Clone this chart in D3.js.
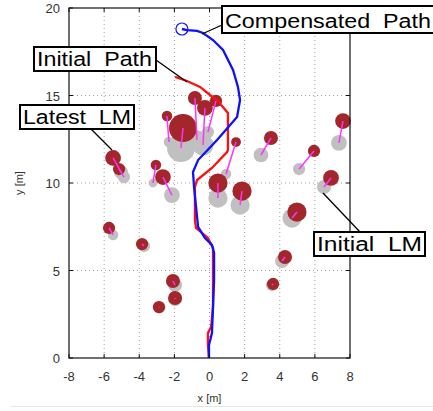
<!DOCTYPE html>
<html>
<head>
<meta charset="utf-8">
<script src="https://cdn.jsdelivr.net/npm/d3@7"></script>
<style>
  body { margin: 0; background: #fff; }
  text { font-family: "Liberation Sans", Arial, sans-serif; }
</style>
</head>
<body>
<div id="chart"></div>
<script>
// Axis ticks
const xTicks = [-8, -6, -4, -2, 0, 2, 4, 6, 8];
const yTicks = [0, 5, 10, 15, 20];

// Initial (odometry) path
const initPathX = [-0.03, -0.09, -0.09, 0.09, 0.2, 0.2, 0.2, -0.09, -0.77, -0.83, -0.83, -0.71, 0.14, 1.0, 1.05, 1.05, 0.43, 0.03, -0.54, -1.28, -1.96];
const initPathY = [0, 0.74, 1.43, 1.77, 2.91, 5.03, 6.29, 6.86, 7.43, 7.89, 9.77, 10.17, 10.86, 11.77, 11.89, 14.0, 14.74, 15.03, 15.49, 15.83, 16.06];

// Compensated path
const compPathX = [-0.03, -0.03, 0.14, 0.2, 0.26, 0.26, 0.14, -0.26, -0.65, -0.88, -0.94, -0.65, 0.43, 1.57, 1.74, 1.62, 1.34, 0.77, 0.2, -0.37, -0.71, -1.28, -1.57];
const compPathY = [0, 0.74, 1.43, 2.91, 4.46, 6.0, 6.46, 6.86, 7.49, 9.77, 10.63, 11.31, 12.46, 13.77, 14.74, 15.49, 16.46, 17.6, 18.17, 18.57, 18.69, 18.74, 18.8];

// Landmarks: initial estimate
const lmInitX = [-0.71, -0.37, -0.09, -2.31, -1.62, 0.94, -5.04, -4.87, -3.22, -2.14, -5.49, 0.48, 1.74, 4.7, 2.93, 5.1, 7.37, 6.52, -3.73, -1.96, -1.96, -2.85, 4.13, 3.56];
const lmInitY = [12.46, 12.17, 12.91, 12.34, 12.0, 10.51, 10.63, 10.34, 10.0, 9.31, 7.03, 9.14, 8.74, 8.0, 11.6, 10.8, 12.29, 9.77, 6.4, 4.17, 3.37, 2.9, 5.54, 4.17];
const lmInitR = [0.55, 0.6, 0.35, 0.3, 0.8, 0.3, 0.4, 0.35, 0.25, 0.45, 0.3, 0.55, 0.55, 0.55, 0.42, 0.35, 0.45, 0.4, 0.35, 0.4, 0.4, 0.35, 0.4, 0.35];

// Landmarks: latest estimate
const lmLastX = [-0.83, -0.26, 0.37, -2.42, -1.51, 1.51, -5.49, -5.15, -3.05, -2.65, -5.72, 0.48, 1.85, 4.98, 3.5, 5.95, 7.6, 6.92, -3.84, -2.08, -1.96, -2.88, 4.3, 3.62];
const lmLastY = [14.86, 14.29, 14.69, 13.83, 13.14, 12.34, 11.43, 10.8, 11.03, 10.34, 7.43, 10.0, 9.54, 8.34, 12.57, 11.83, 13.54, 10.29, 6.51, 4.4, 3.43, 2.91, 5.77, 4.23];
const lmLastR = [0.4, 0.45, 0.35, 0.3, 0.8, 0.28, 0.45, 0.35, 0.3, 0.45, 0.35, 0.55, 0.55, 0.55, 0.4, 0.35, 0.45, 0.45, 0.35, 0.4, 0.4, 0.35, 0.4, 0.35];

const W = 433, H = 411;
const margin = {top: 8, right: 83, bottom: 53, left: 69};
const width = W - margin.left - margin.right;
const height = H - margin.top - margin.bottom;

const svgRoot = d3.select("#chart").append("svg")
    .attr("width", W)
    .attr("height", H);

const svg = svgRoot.append("g")
    .attr("transform", `translate(${margin.left},${margin.top})`);

const x = d3.scaleLinear().domain([-8, 8]).range([0, width]);
const y = d3.scaleLinear().domain([0, 20]).range([height, 0]);
const rs = v => y(0) - y(v);

// Grid (dotted)
svg.append("g").selectAll("line").data(xTicks.slice(1, -1)).join("line")
    .attr("x1", d => x(d)).attr("x2", d => x(d))
    .attr("y1", 0).attr("y2", height)
    .attr("stroke", "#a0a0a0").attr("stroke-width", 1)
    .attr("stroke-dasharray", "1,3");
svg.append("g").selectAll("line").data(yTicks.slice(1, -1)).join("line")
    .attr("x1", 0).attr("x2", width)
    .attr("y1", d => y(d)).attr("y2", d => y(d))
    .attr("stroke", "#a0a0a0").attr("stroke-width", 1)
    .attr("stroke-dasharray", "1,3");

// Landmarks: initial (gray)
const lmIdx = d3.range(lmInitX.length);
svg.append("g").selectAll("circle").data(lmIdx).join("circle")
    .attr("cx", i => x(lmInitX[i]))
    .attr("cy", i => y(lmInitY[i]))
    .attr("r", i => rs(lmInitR[i]))
    .attr("fill", "#c0c0c0");

// Landmarks: latest (dark red)
svg.append("g").selectAll("circle").data(lmIdx).join("circle")
    .attr("cx", i => x(lmLastX[i]))
    .attr("cy", i => y(lmLastY[i]))
    .attr("r", i => rs(lmLastR[i]))
    .attr("fill", "#a3262a");

// Displacement lines
svg.append("g").selectAll("line").data(lmIdx).join("line")
    .attr("x1", i => x(lmInitX[i])).attr("y1", i => y(lmInitY[i]))
    .attr("x2", i => x(lmLastX[i])).attr("y2", i => y(lmLastY[i]))
    .attr("stroke", "#ff33ff").attr("stroke-width", 1.5);

// Paths
const line = d3.line().x(d => x(d[0])).y(d => y(d[1]));
svg.append("path")
    .datum(d3.zip(initPathX, initPathY))
    .attr("d", line)
    .attr("fill", "none").attr("stroke", "#ff1010").attr("stroke-width", 2.3);
svg.append("path")
    .datum(d3.zip(compPathX, compPathY))
    .attr("d", line)
    .attr("fill", "none").attr("stroke", "#1010ff").attr("stroke-width", 2.3);
svg.append("circle")
    .attr("cx", x(compPathX[compPathX.length - 1]))
    .attr("cy", y(compPathY[compPathY.length - 1]))
    .attr("r", 6)
    .attr("fill", "none").attr("stroke", "#1010ff").attr("stroke-width", 1.2);

// Frame and inward ticks
svg.append("rect")
    .attr("width", width).attr("height", height)
    .attr("fill", "none").attr("stroke", "#111").attr("stroke-width", 1.2);

const tickLen = 4;
const tk = svg.append("g").attr("stroke", "#111").attr("stroke-width", 1);
xTicks.forEach(t => {
    tk.append("line").attr("x1", x(t)).attr("x2", x(t)).attr("y1", height).attr("y2", height - tickLen);
    tk.append("line").attr("x1", x(t)).attr("x2", x(t)).attr("y1", 0).attr("y2", tickLen);
});
yTicks.forEach(t => {
    tk.append("line").attr("x1", 0).attr("x2", tickLen).attr("y1", y(t)).attr("y2", y(t));
    tk.append("line").attr("x1", width).attr("x2", width - tickLen).attr("y1", y(t)).attr("y2", y(t));
});

// Tick labels
svg.append("g").selectAll("text").data(xTicks).join("text")
    .attr("x", d => x(d)).attr("y", height + 23)
    .attr("text-anchor", "middle")
    .attr("font-size", 13).attr("fill", "#333")
    .text(d => d);
svg.append("g").selectAll("text").data(yTicks).join("text")
    .attr("x", -9).attr("y", d => y(d) + 5)
    .attr("text-anchor", "end")
    .attr("font-size", 13).attr("fill", "#333")
    .text(d => d);

// Axis titles
svg.append("text")
    .attr("x", x(0)).attr("y", height + 44)
    .attr("text-anchor", "middle")
    .attr("font-size", 11).attr("fill", "#333")
    .text("x [m]");
svg.append("text")
    .attr("transform", `translate(${-46},${y(10)}) rotate(-90)`)
    .attr("text-anchor", "middle")
    .attr("font-size", 11).attr("fill", "#333")
    .text("y [m]");

// Bottom separator
svgRoot.append("line")
    .attr("x1", 10).attr("x2", W).attr("y1", 406.5).attr("y2", 406.5)
    .attr("stroke", "#e6e6e6").attr("stroke-width", 1);

// Annotations (in page coordinates)
function annotate(label, bx, by, bw, bh, tw, lx1, ly1, lx2, ly2) {
    svgRoot.append("line")
        .attr("x1", lx1).attr("y1", ly1).attr("x2", lx2).attr("y2", ly2)
        .attr("stroke", "#000").attr("stroke-width", 1.3);
    svgRoot.append("rect")
        .attr("x", bx).attr("y", by).attr("width", bw).attr("height", bh)
        .attr("fill", "#fff").attr("stroke", "#000").attr("stroke-width", 2);
    svgRoot.append("text")
        .attr("x", bx + 3).attr("y", by + bh - 5)
        .attr("font-size", 20).attr("fill", "#000")
        .attr("textLength", tw).attr("lengthAdjust", "spacingAndGlyphs")
        .style("white-space", "pre")
        .text(label);
}
annotate("Compensated  Path", 222, 6, 230, 27, 206, 222, 25, 202, 34);
annotate("Initial  Path", 34, 47, 122, 24, 115, 156, 60, 187, 82);
annotate("Latest  LM", 20, 105, 114, 24, 108, 90, 128, 112, 150);
annotate("Initial  LM", 314, 232, 111, 24, 105, 323, 193, 360, 232);
</script>
</body>
</html>
